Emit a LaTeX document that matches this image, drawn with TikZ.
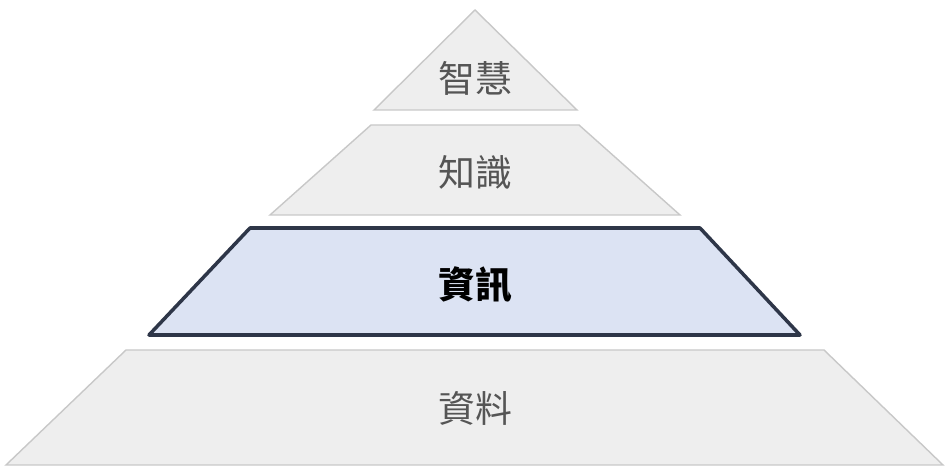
\documentclass[tikz,border=0pt]{standalone}
\usepackage{fontspec}
\newfontfamily\cjk{Noto Sans CJK TC}
\usetikzlibrary{positioning}
\definecolor{layerfill}{HTML}{EEEEEE}
\definecolor{layerline}{HTML}{C8C8C8}
\definecolor{infofill}{HTML}{DCE3F3}
\definecolor{infoline}{HTML}{2E3648}
\definecolor{labelgray}{HTML}{555555}

\begin{document}
\begin{tikzpicture}[x=0.02cm, y=-0.02cm,
    layer/.style={draw=layerline, fill=layerfill, line width=0.8pt},
    focus/.style={draw=infoline, fill=infofill, line width=2pt, line join=round},
    label/.style={font=\cjk\fontsize{21}{24}\selectfont, text=labelgray},
    boldlabel/.style={font=\cjk\bfseries\fontsize{21}{24}\selectfont, text=black}
]
  \useasboundingbox (0,0) rectangle (948,469);

  % Layers
  \draw[layer] (374,110) -- (475,10) -- (577,110) -- cycle;
  \draw[layer] (371,125) -- (579,125) -- (680,215) -- (270,215) -- cycle;
  \draw[focus] (250,228) -- (700,228) -- (800,335) -- (149,335) -- cycle;
  \draw[layer] (126,350) -- (824,350) -- (943,465) -- (6,465) -- cycle;

  % Labels
  \node[label] (wisdom) at (475,78) {智慧};
  \node[label] (knowledge) at (475,172) {知識};
  \node[boldlabel] (information) at (475,285) {資訊};
  \node[label] (data) at (475,408) {資料};
\end{tikzpicture}
\end{document}
